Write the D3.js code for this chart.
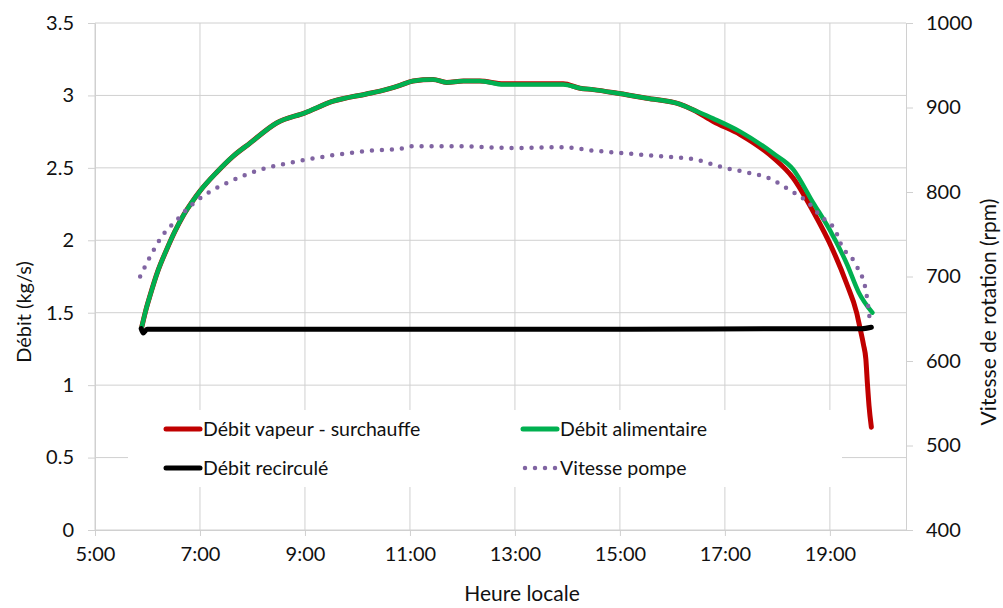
<!DOCTYPE html>
<html>
<head>
<meta charset="utf-8">
<script src="https://cdn.jsdelivr.net/npm/d3@7"></script>
<style>
  body { margin: 0; background: #fff; }
  svg text { font-family: Lato, "Open Sans", sans-serif; fill: #111; }
</style>
</head>
<body>
<div id="chart"></div>
<script>
// Heure locale (décimale) et valeurs
const heuresVapeur = [5.89, 5.97, 6.05, 6.20, 6.37, 6.52, 6.68, 6.84, 7.00, 7.32, 7.63, 7.95, 8.46, 9.00, 9.54, 10.17, 10.43, 10.81, 11.06, 11.44, 11.70, 12.02, 12.33, 12.78, 13.29, 13.92, 14.24, 14.49, 14.87, 15.51, 16.14, 16.40, 16.78, 17.29, 17.92, 18.30, 18.68, 19.06, 19.32, 19.51, 19.57, 19.64, 19.685, 19.715, 19.745, 19.79];
const debitVapeur = [1.40, 1.52, 1.62, 1.79, 1.94, 2.06, 2.17, 2.26, 2.34, 2.47, 2.58, 2.67, 2.81, 2.88, 2.96, 3.01, 3.03, 3.07, 3.10, 3.11, 3.09, 3.10, 3.10, 3.08, 3.08, 3.08, 3.05, 3.04, 3.02, 2.98, 2.94, 2.90, 2.82, 2.73, 2.57, 2.43, 2.20, 1.93, 1.70, 1.50, 1.40, 1.28, 1.18, 1.01, 0.86, 0.71];

const heuresAlim = [5.89, 5.97, 6.05, 6.20, 6.37, 6.52, 6.68, 6.84, 7.00, 7.32, 7.63, 7.95, 8.46, 9.00, 9.54, 10.17, 10.43, 10.81, 11.06, 11.44, 11.70, 12.02, 12.33, 12.78, 13.29, 13.92, 14.24, 14.49, 14.87, 15.51, 16.14, 16.40, 16.78, 17.29, 17.92, 18.30, 18.68, 19.00, 19.32, 19.55, 19.81];
const debitAlim = [1.40, 1.52, 1.62, 1.79, 1.94, 2.06, 2.17, 2.26, 2.34, 2.47, 2.58, 2.67, 2.81, 2.88, 2.96, 3.01, 3.03, 3.07, 3.10, 3.11, 3.09, 3.10, 3.10, 3.075, 3.075, 3.075, 3.05, 3.04, 3.02, 2.98, 2.94, 2.90, 2.84, 2.75, 2.60, 2.49, 2.26, 2.07, 1.84, 1.64, 1.50];

const heuresRecirc = [5.88, 5.92, 5.99, 6.40, 10.00, 15.00, 18.50, 19.60, 19.79];
const debitRecirc = [1.39, 1.36, 1.385, 1.385, 1.385, 1.385, 1.39, 1.39, 1.40];

const heuresPompe = [5.86, 6.08, 6.27, 6.56, 6.81, 7.13, 7.63, 8.18, 8.75, 9.48, 10.27, 10.81, 11.03, 11.98, 12.97, 13.92, 14.49, 15.06, 15.82, 16.40, 16.97, 17.35, 17.89, 18.24, 18.56, 18.83, 19.10, 19.25, 19.41, 19.51, 19.60, 19.70, 19.75, 19.77];
const vitessePompe = [700, 727, 747, 767, 783, 798, 814, 827, 835, 843, 849, 851, 854, 854, 852, 853, 849, 846, 842, 839, 829, 824, 815, 802, 789, 771, 755, 733, 723, 712, 702, 678, 654, 643];

const ticksHeure = [5, 7, 9, 11, 13, 15, 17, 19];
const ticksDebit = [0, 0.5, 1, 1.5, 2, 2.5, 3, 3.5];
const ticksVitesse = [400, 500, 600, 700, 800, 900, 1000];

const W = 1003, H = 608;
const plot = {left: 95, right: 906, top: 23, bottom: 530};

const svg = d3.select("#chart").append("svg")
    .attr("width", W)
    .attr("height", H);

// Echelles
const x = d3.scaleLinear().domain([5, 20.45]).range([plot.left, plot.right]);
const y = d3.scaleLinear().domain([0, 3.5]).range([plot.bottom, plot.top]);
const y2 = d3.scaleLinear().domain([400, 1000]).range([plot.bottom, plot.top]);

const grille = "#d0d0d0";

// Grille horizontale
svg.append("g")
   .selectAll("line")
   .data(ticksDebit)
   .join("line")
   .attr("x1", plot.left).attr("x2", plot.right)
   .attr("y1", d => y(d)).attr("y2", d => y(d))
   .attr("stroke", grille).attr("stroke-width", 1);

// Grille verticale
svg.append("g")
   .selectAll("line")
   .data(ticksHeure)
   .join("line")
   .attr("x1", d => x(d)).attr("x2", d => x(d))
   .attr("y1", plot.top).attr("y2", plot.bottom)
   .attr("stroke", grille).attr("stroke-width", 1);

function styleAxe(g) {
    g.select(".domain").attr("stroke", grille);
    g.selectAll(".tick line").attr("stroke", grille);
    g.selectAll(".tick text").attr("font-size", 20).attr("fill", "#111");
}

// Axe X
svg.append("g")
   .attr("transform", `translate(0,${plot.bottom})`)
   .call(d3.axisBottom(x).tickValues(ticksHeure).tickFormat(d => d + ":00").tickSize(6).tickSizeOuter(0).tickPadding(11))
   .call(styleAxe);

// Axe Y gauche
svg.append("g")
   .attr("transform", `translate(${plot.left},0)`)
   .call(d3.axisLeft(y).tickValues(ticksDebit).tickFormat(d3.format("")).tickSize(7).tickSizeOuter(0).tickPadding(14))
   .call(styleAxe);

// Axe Y droit
svg.append("g")
   .attr("transform", `translate(${plot.right},0)`)
   .call(d3.axisRight(y2).tickValues(ticksVitesse).tickFormat(d3.format("d")).tickSize(7).tickSizeOuter(0).tickPadding(13))
   .call(styleAxe);

// Legende (fond blanc qui masque la grille)
const legende = svg.append("g");
legende.append("rect")
   .attr("x", 128).attr("y", 410)
   .attr("width", 714).attr("height", 77)
   .attr("fill", "#fff");

// Courbes
const ligne = (xs, ys, sy) => d3.line()
    .x((d, i) => x(xs[i]))
    .y(d => sy(d))
    .curve(d3.curveMonotoneX)(ys);

svg.append("path")
   .attr("d", ligne(heuresVapeur, debitVapeur, y))
   .attr("fill", "none").attr("stroke", "#c00000").attr("stroke-width", 5)
   .attr("stroke-linejoin", "round").attr("stroke-linecap", "round");

svg.append("path")
   .attr("d", ligne(heuresAlim, debitAlim, y))
   .attr("fill", "none").attr("stroke", "#00b050").attr("stroke-width", 4.5)
   .attr("stroke-linejoin", "round").attr("stroke-linecap", "round");

svg.append("path")
   .attr("d", ligne(heuresRecirc, debitRecirc, y))
   .attr("fill", "none").attr("stroke", "#000").attr("stroke-width", 5)
   .attr("stroke-linejoin", "round").attr("stroke-linecap", "round");

svg.append("path")
   .attr("d", ligne(heuresPompe, vitessePompe, y2))
   .attr("fill", "none").attr("stroke", "#8064a2").attr("stroke-width", 4.5)
   .attr("stroke-dasharray", "0 10").attr("stroke-linecap", "round");

// Entrees de legende
const entrees = [
    {nom: "Débit vapeur - surchauffe", couleur: "#c00000", x: 166, y: 429, pointille: false},
    {nom: "Débit alimentaire", couleur: "#00b050", x: 523, y: 429, pointille: false},
    {nom: "Débit recirculé", couleur: "#000", x: 166, y: 468, pointille: false},
    {nom: "Vitesse pompe", couleur: "#8064a2", x: 523, y: 468, pointille: true}
];

entrees.forEach(e => {
    legende.append("line")
       .attr("x1", e.x + (e.pointille ? 2 : 0)).attr("x2", e.x + 34)
       .attr("y1", e.y).attr("y2", e.y)
       .attr("stroke", e.couleur)
       .attr("stroke-width", e.pointille ? 4.5 : 5)
       .attr("stroke-linecap", "round")
       .attr("stroke-dasharray", e.pointille ? "0 10" : null);
    legende.append("text")
       .attr("x", e.x + 37)
       .attr("y", e.y)
       .attr("dy", "0.35em")
       .attr("font-size", 19.5)
       .text(e.nom);
});

// Titres des axes
svg.append("text")
   .attr("transform", `translate(24,312) rotate(-90)`)
   .attr("text-anchor", "middle")
   .attr("dy", "0.35em")
   .attr("font-size", 20)
   .text("Débit (kg/s)");

svg.append("text")
   .attr("transform", `translate(989,312) rotate(-90)`)
   .attr("text-anchor", "middle")
   .attr("dy", "0.35em")
   .attr("font-size", 21)
   .text("Vitesse de rotation (rpm)");

svg.append("text")
   .attr("x", 522)
   .attr("y", 594)
   .attr("text-anchor", "middle")
   .attr("dy", "0.35em")
   .attr("font-size", 21)
   .text("Heure locale");
</script>
</body>
</html>
